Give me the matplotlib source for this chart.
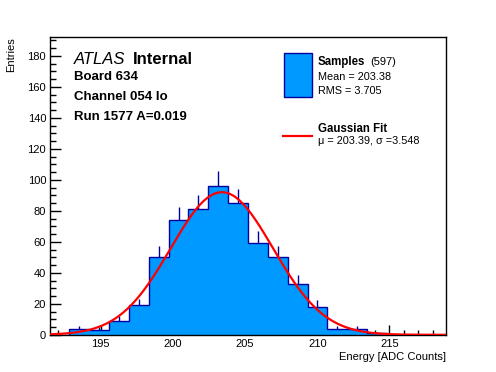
import numpy as np
import matplotlib
matplotlib.use("Agg")
import matplotlib.pyplot as plt
from matplotlib.ticker import MultipleLocator

# histogram
bin_lo = 191.45
bin_width = 1.375
counts = [0, 4, 3, 9, 19, 50, 74, 81, 96, 85, 59, 50, 33, 18, 4, 4, 1, 0, 0, 0]

# gaussian fit
fit_amp = 92.0
fit_mu = 203.39
fit_sigma = 3.548

n_samples = 597
mean_txt = "203.38"
rms_txt = "3.705"

board = "634"
channel = "054 lo"
run = "1577"
amp_txt = "0.019"

plt.rcParams['font.family'] = ['Liberation Sans', 'DejaVu Sans']

fill_col = '#0099ff'
edge_col = '#0000a0'

fig = plt.figure(figsize=(4.96, 3.72), dpi=100)
ax = fig.add_axes([0.1, 0.1, 0.8, 0.8])

counts = np.array(counts, dtype=float)
edges = bin_lo + bin_width * np.arange(len(counts) + 1)
centers = 0.5 * (edges[:-1] + edges[1:])

# error bars under the fill, only upper half shows
nz = counts > 0
err = np.sqrt(counts[nz])
ax.vlines(centers[nz], counts[nz] - err, counts[nz] + err, color=edge_col, lw=1.0, zorder=1)
ax.stairs(counts, edges, fill=True, color=fill_col, zorder=2)
ax.stairs(counts, edges, color=edge_col, lw=1.0, zorder=3)

xf = np.linspace(edges[0], edges[-1], 400)
yf = fit_amp * np.exp(-0.5 * ((xf - fit_mu) / fit_sigma) ** 2)
ax.plot(xf, yf, color='#ff0000', lw=1.6, zorder=4)

ax.set_xlim(edges[0], edges[-1])
ax.set_ylim(0, 192)

ax.xaxis.set_major_locator(MultipleLocator(5))
ax.xaxis.set_minor_locator(MultipleLocator(1))
ax.yaxis.set_major_locator(MultipleLocator(20))
ax.yaxis.set_minor_locator(MultipleLocator(5))
ax.tick_params(which='both', direction='in', top=False, right=False, labelsize=8)
ax.tick_params(axis='y', which='major', length=8, width=1, pad=2.5)
ax.tick_params(axis='y', which='minor', length=4, width=1)
ax.tick_params(axis='x', which='major', length=7, width=1, pad=3)
ax.tick_params(axis='x', which='minor', length=3.6, width=1)
for sp in ax.spines.values():
    sp.set_linewidth(1.0)

W, H = 496.0, 372.0

def ftext(x, y, s, **kw):
    fig.text(x / W, 1 - y / H, s, va='baseline', **kw)

fig.text(16.5 / W, 1 - 37 / H, "Entries", rotation=90, ha='right', va='top', fontsize=8)
fig.text(446 / W, 1 - 360 / H, "Energy [ADC Counts]", ha='right', va='baseline', fontsize=8)

ftext(73.5, 63.5, "ATLAS", fontsize=12, style='italic')
ftext(133, 63.5, "Internal", fontsize=12, weight='bold')
ftext(74, 80.5, "Board " + board, fontsize=9.5, weight='bold')
ftext(74, 100, "Channel " + channel, fontsize=9.5, weight='bold')
ftext(74, 119.5, "Run " + run + " A=" + amp_txt, fontsize=9.5, weight='bold')

# legend by hand
box = plt.Rectangle((283.5 / W, 1 - 96.7 / H), 28 / W, 43.4 / H, transform=fig.transFigure,
                    facecolor=fill_col, edgecolor=edge_col, lw=1.0)
fig.add_artist(box)
ftext(317.5, 65, "Samples", fontsize=8.3, weight='bold')
ftext(370, 65, "(%d)" % n_samples, fontsize=8)
ftext(317.5, 80.5, "Mean = " + mean_txt, fontsize=7.8)
ftext(317.5, 93.5, "RMS = " + rms_txt, fontsize=7.8)

fig.add_artist(plt.Line2D([283 / W, 312 / W], [1 - 135.7 / H, 1 - 135.7 / H],
                          transform=fig.transFigure, color='#ff0000', lw=1.6))
ftext(317.5, 131.5, "Gaussian Fit", fontsize=8.3, weight='bold')
ftext(317.5, 144.5, "μ = %.2f, σ =%.3f" % (fit_mu, fit_sigma), fontsize=7.8)

fig.savefig("out.png", dpi=100)
